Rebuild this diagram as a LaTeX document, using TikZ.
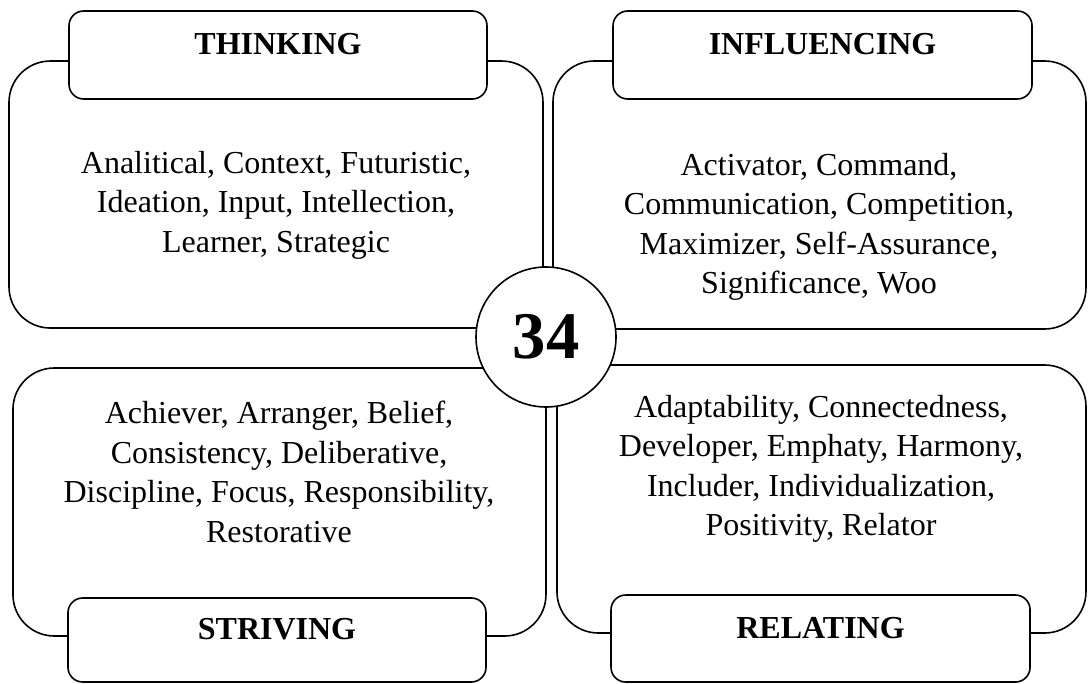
\documentclass[tikz,border=0pt]{standalone}
\usepackage{fontspec}
\setmainfont{Liberation Serif}
\usetikzlibrary{shapes}

\tikzset{
  bigbox/.style = {rectangle, draw, line width=1.2pt,
                   rounded corners=31pt, inner sep=0pt},
  headbox/.style = {rectangle, draw, fill=white, line width=1.2pt,
                    rounded corners=11pt, inner sep=0pt},
  headtext/.style = {font=\fontsize{24}{29}\selectfont\bfseries},
  bodytext/.style = {align=center, font=\fontsize{24}{29.6}\selectfont}
}

\begin{document}
\begin{tikzpicture}[x=1pt, y=1pt]

  \useasboundingbox (0,0) rectangle (816,-513);

      \node[bigbox,
            minimum width = 400.5pt,
            minimum height = 200.25pt] (think) at (207,-145.9) {};
      \node[bigbox,
            minimum width = 399.75pt,
            minimum height = 201pt] (infl) at (614.6,-146.25) {};
      \node[bigbox,
            minimum width = 399.75pt,
            minimum height = 201pt] (striv) at (209.6,-376.5) {};
      \node[bigbox,
            minimum width = 396.75pt,
            minimum height = 201pt] (relat) at (616.1,-374.25) {};

      \node[bodytext] (thinkT) at (207,-153.75) {Analitical, Context, Futuristic,\\
        Ideation, Input, Intellection,\\ Learner, Strategic};
      \node[bodytext] (inflT) at (614.25,-170.25) {Activator, Command,\\
        Communication, Competition,\\ Maximizer, Self-Assurance,\\
        Significance, Woo};
      \node[bodytext] (strivT) at (209.25,-354) {Achiever, Arranger, Belief,\\
        Consistency, Deliberative,\\ Discipline, Focus, Responsibility,\\
        Restorative};
      \node[bodytext] (relatT) at (615.75,-351.75) {Adaptability, Connectedness,\\
        Developer, Emphaty, Harmony,\\ Includer, Individualization,\\
        Positivity, Relator};

      \node[headbox,
            minimum width = 313.5pt,
            minimum height = 66pt] (thinkH) at (208.5,-41.25) {};
      \node[headtext] (thinkL) at ([yshift=8pt]thinkH.center) {THINKING};

      \node[headbox,
            minimum width = 314.25pt,
            minimum height = 66pt] (inflH) at (616.9,-41.25) {};
      \node[headtext] (inflL) at ([yshift=8pt]inflH.center) {INFLUENCING};

      \node[headbox,
            minimum width = 313.5pt,
            minimum height = 63pt] (strivH) at (207.75,-480) {};
      \node[headtext] (strivL) at ([yshift=8pt]strivH.center) {STRIVING};

      \node[headbox,
            minimum width = 314.25pt,
            minimum height = 65.25pt] (relatH) at (615.4,-478.9) {};
      \node[headtext] (relatL) at ([yshift=8pt]relatH.center) {RELATING};

      \node[circle,
            draw,
            fill = white,
            line width = 1.2pt,
            inner sep = 0pt,
            minimum size = 105pt] (num) at (409.5,-252.75) {};
      \node[font=\fontsize{50}{60}\selectfont\bfseries] (numT) at (num.center) {34};

\end{tikzpicture}
\end{document}
